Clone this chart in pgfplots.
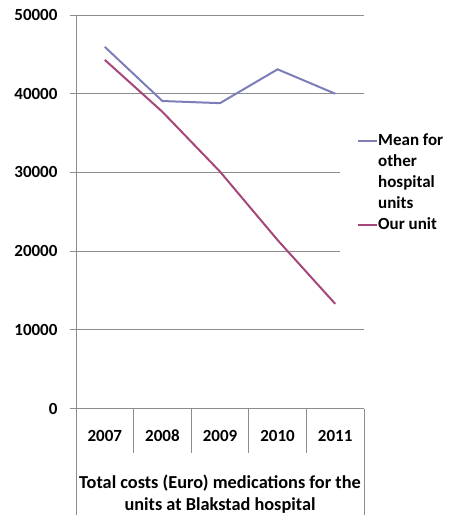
\documentclass[border=0pt]{standalone}
\usepackage{pgfplots}
\pgfplotsset{compat=1.18}
\usepackage{fontspec}
\setmainfont{Carlito}
\definecolor{meanc}{HTML}{7C7EB8}
\definecolor{ourc}{HTML}{A6467A}
\definecolor{gridc}{HTML}{8C8C8C}
\begin{document}
\begin{tikzpicture}[x=1pt,y=1pt]
\useasboundingbox (-76,-106.5) rectangle (373,408.5);
\begin{axis}[
  at={(0,0)}, anchor=south west,
  scale only axis,
  width=288pt, height=393.5pt,
  xmin=-0.5, xmax=4.5, ymin=0, ymax=50000,
  axis line style={draw=gridc, line width=0.8pt},
  axis x line=bottom, axis y line=left,
  separate axis lines,
  x axis line style={-}, y axis line style={-},
  ytick={0,10000,...,50000},
  scaled y ticks=false,
  yticklabel={\pgfmathprintnumber[fixed,1000 sep={}]{\tick}},
  /pgf/number format/assume math mode=true,
  ymajorgrids,
  grid style={draw=gridc, line width=0.8pt},
  ytick style={draw=gridc, line width=0.8pt},
  y tick label style={font=\fontsize{17}{20}\selectfont\bfseries, xshift=-9pt},
  tick align=outside,
  major tick length=6pt,
  xtick={0,1,2,3,4},
  xticklabels={2007,2008,2009,2010,2011},
  x tick style={draw=none},
  x tick label style={font=\fontsize{17}{20}\selectfont\bfseries, anchor=base, yshift=-27pt},
  extra x ticks={-0.5,0.5,1.5,2.5,3.5,4.5},
  extra x tick labels={},
  extra x tick style={major tick length=44pt, xtick style={draw=gridc, line width=0.8pt}, grid=none},
  xlabel={Total costs (Euro) medications for the\\units at Blakstad hospital},
  xlabel style={font=\fontsize{18.3}{22}\selectfont\bfseries, align=center, at={(axis description cs:0.5,0)}, anchor=north, yshift=-63pt},
  clip=false,
  legend style={at={(264pt,297.5pt)}, anchor=north west, draw=none, fill=white,
    font=\fontsize{17}{20}\selectfont\bfseries,
    nodes={text height=12pt, text depth=4pt, inner sep=0pt},
    cells={anchor=west}, inner xsep=17pt, inner ysep=22pt, row sep=5pt},
  legend image code/.code={\draw[#1] (0pt,0pt) -- (19pt,0pt);},
]
\addplot[meanc, line width=2pt] coordinates {(0,45950) (1,39070) (2,38800) (3,43100) (4,40000)};
\addlegendentry{Mean for}
\addlegendimage{empty legend}\addlegendentry{other}
\addlegendimage{empty legend}\addlegendentry{hospital}
\addlegendimage{empty legend}\addlegendentry{units}
\addplot[ourc, line width=2pt] coordinates {(0,44300) (1,37700) (2,30100) (3,21400) (4,13300)};
\addlegendentry{Our unit}
\end{axis}
\draw[gridc, line width=0.8pt] (0,0) -- (0,-106.5);
\draw[gridc, line width=0.8pt] (288,0) -- (288,-106.5);
\end{tikzpicture}
\end{document}
